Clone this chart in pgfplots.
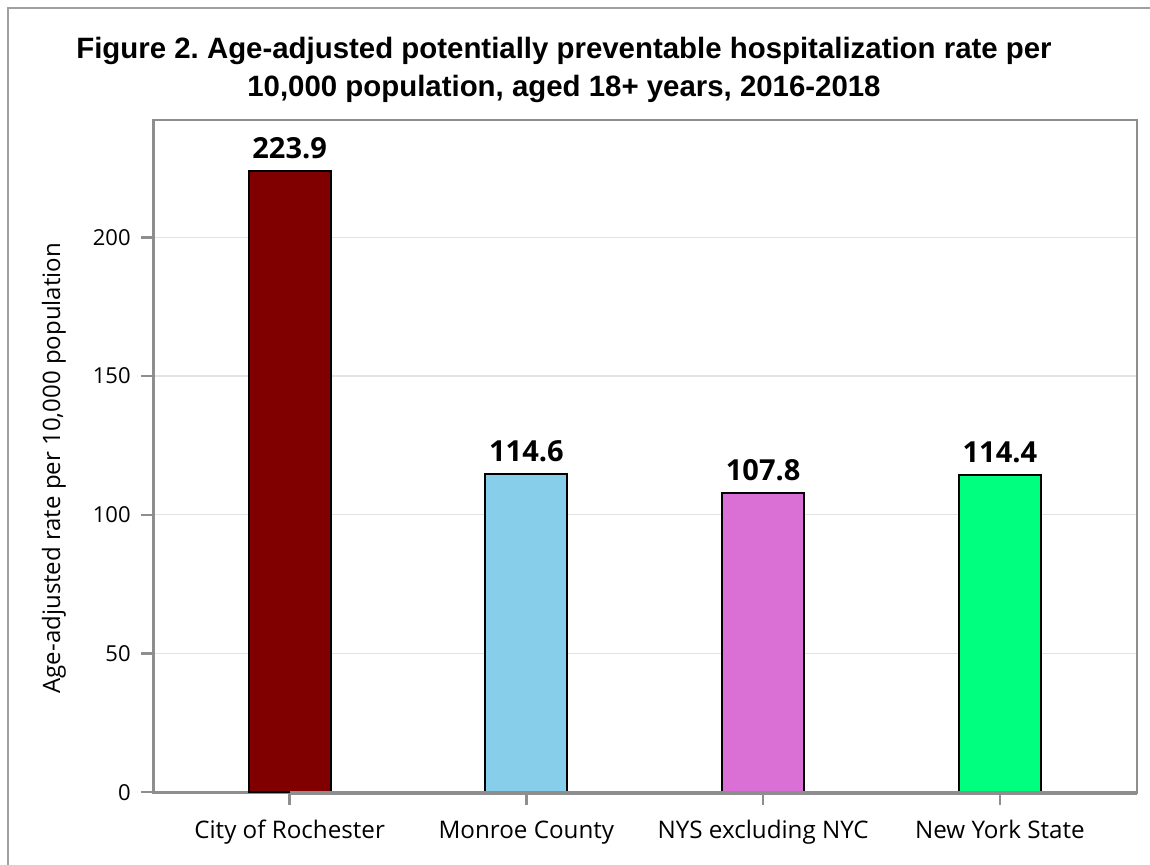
\documentclass[border=0pt]{standalone}
\usepackage{fontspec}
\setmainfont{Open Sans}
\newfontfamily\titlefont{Liberation Sans}
\usepackage{pgfplots}
\pgfplotsset{compat=1.18}
\definecolor{axgray}{HTML}{8E8E8E}
\definecolor{framegray}{HTML}{A0A0A0}
\definecolor{gridgray}{HTML}{E3E3E3}
\definecolor{cRoch}{HTML}{800000}
\definecolor{cMon}{HTML}{87CEEB}
\definecolor{cNYS}{HTML}{DA70D6}
\definecolor{cNY}{HTML}{00FF7F}
\frenchspacing
\begin{document}
\begin{tikzpicture}[x=0.5pt,y=0.5pt]
\path[use as bounding box] (0,0) rectangle (1150,865);
\draw[framegray, line width=1pt] (8,0) -- (8,857) -- (1150,857);
\node[font=\titlefont\bfseries\fontsize{14.7}{18}\selectfont, anchor=base] at (564,806.7) {Figure 2. Age-adjusted potentially preventable hospitalization rate per};
\node[font=\titlefont\bfseries\fontsize{14.7}{18}\selectfont, anchor=base] at (564,768) {10,000 population, aged 18+ years, 2016-2018};
\begin{axis}[
  at={(76.75pt,36.35pt)}, anchor=south west,
  scale only axis, width=491.75pt, height=336.15pt,
  xmin=-0.575, xmax=3.579, ymin=0, ymax=242.3,
  xtick={0,1,2,3},
  xticklabels={City of Rochester, Monroe County, NYS excluding NYC, New York State},
  ytick={0,50,100,150,200},
  ymajorgrids,
  grid style={draw=gridgray, line width=0.6pt},
  axis line style={draw=axgray, line width=1.4pt},
  tick style={draw=axgray, line width=1.2pt},
  tick align=outside, major tick length=6.3pt,
  tick pos=left,
  /pgf/number format/assume math mode=true,
  ticklabel style={text=black},
  yticklabel style={font=\fontsize{11}{13}\selectfont, xshift=-1.6pt},
  xticklabel style={font=\fontsize{12.1}{14}\selectfont, anchor=base, yshift=-17pt},
  ylabel={Age-adjusted rate per 10,000 population},
  ylabel style={font=\fontsize{12}{14}\selectfont, at={(axis description cs:-0.1012,0.482)}, anchor=center},
  every axis plot/.append style={ybar, bar width=41pt, bar shift=0pt, draw=black, line width=1pt},
  nodes near coords,
  point meta=explicit symbolic,
  every node near coord/.append style={font=\bfseries\fontsize{14.5}{17}\selectfont, anchor=base, yshift=6.2pt, text=black},
  clip=false,
]
\addplot[fill=cRoch] coordinates {(0,223.9) [223.9]};
\addplot[fill=cMon] coordinates {(1,114.6) [114.6]};
\addplot[fill=cNYS] coordinates {(2,107.8) [107.8]};
\addplot[fill=cNY] coordinates {(3,114.4) [114.4]};
\draw[axgray, line width=2pt] (rel axis cs:0,0) ++(0,-0.5pt) -- ([yshift=-0.5pt]rel axis cs:1,0);
\end{axis}
\end{tikzpicture}
\end{document}
